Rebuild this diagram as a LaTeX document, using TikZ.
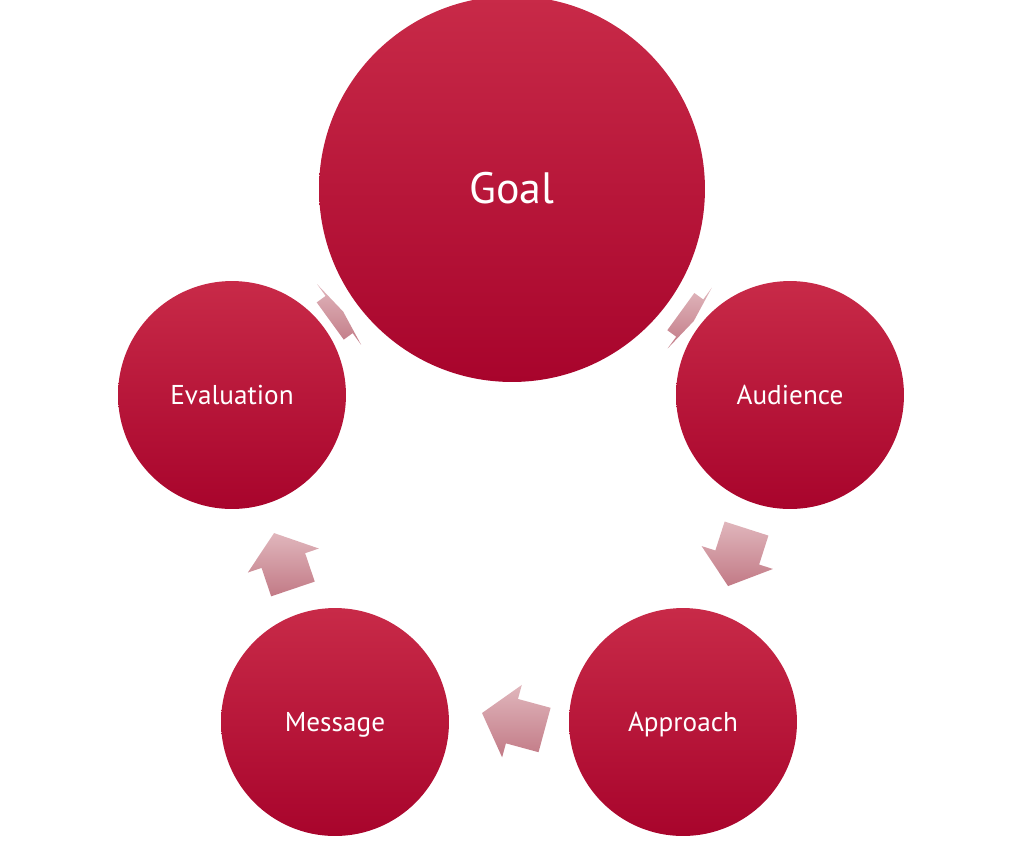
\documentclass[tikz,border=0pt]{standalone}
\usepackage{fontspec}
\setmainfont{PT Sans}
\usetikzlibrary{calc}
\definecolor{ctop}{RGB}{200,42,72}
\definecolor{cbot}{RGB}{168,4,44}
\definecolor{atop}{RGB}{224,182,188}
\definecolor{abot}{RGB}{194,122,134}
\tikzset{
  bigcirc/.style={circle, inner sep=0pt, minimum size=7.72cm, top color=ctop, bottom color=cbot, draw=none, text=white, font=\fontsize{25}{30}\selectfont, text height=16pt, text depth=0pt},
  smallcirc/.style={circle, inner sep=0pt, minimum size=4.56cm, top color=ctop, bottom color=cbot, draw=none, text=white, font=\fontsize{15.5}{18}\selectfont, text height=10.9pt, text depth=0pt},
  blockarrow/.style={top color=atop, bottom color=abot, draw=none}
}
% #1 centre coordinate, #2 direction (screen angle), #3 total length, #4 head length
\newcommand{\cycarrow}[4]{%
  \pgfmathsetmacro{\hl}{#3/2}%
  \pgfmathsetmacro{\hb}{#3/2-#4}%
  \pgfmathsetmacro{\ap}{#2+90}%
  \pgfmathsetmacro{\am}{#2-90}%
  \pgfmathsetmacro{\ab}{#2+180}%
  \shade[blockarrow]
    ($(#1)+(#2:\hl)$)
    -- ($(#1)+(#2:\hb)+(\ap:37.5)$)
    -- ($(#1)+(#2:\hb)+(\ap:23)$)
    -- ($(#1)+(\ab:\hl)+(\ap:23)$)
    -- ($(#1)+(\ab:\hl)+(\am:23)$)
    -- ($(#1)+(#2:\hb)+(\am:23)$)
    -- ($(#1)+(#2:\hb)+(\am:37.5)$)
    -- cycle;
}
\begin{document}
\begin{tikzpicture}[x=0.02cm, y=-0.02cm]
\useasboundingbox (0,0) rectangle (1024,840);
% arrow centres
\coordinate (a1) at (336.7,316.3);
\coordinate (a2) at (687.3,316.3);
\coordinate (a3) at (737.3,557.3);
\coordinate (a4) at (513.3,721.5);
\coordinate (a5) at (283.5,561);
\cycarrow{a1}{-36}{16}{5}
\cycarrow{a2}{36}{16}{5}
\cycarrow{a3}{107.8}{60.4}{30}
\cycarrow{a4}{195.2}{64.8}{31}
\cycarrow{a5}{251.3}{59}{29}
% circles
\node[bigcirc] (goal) at (512,189) {Goal};
\node[smallcirc] (aud) at (790,395) {Audience};
\node[smallcirc] (app) at (683,722) {Approach};
\node[smallcirc] (msg) at (335,722) {Message};
\node[smallcirc] (eval) at (232,395) {Evaluation};
\end{tikzpicture}
\end{document}
